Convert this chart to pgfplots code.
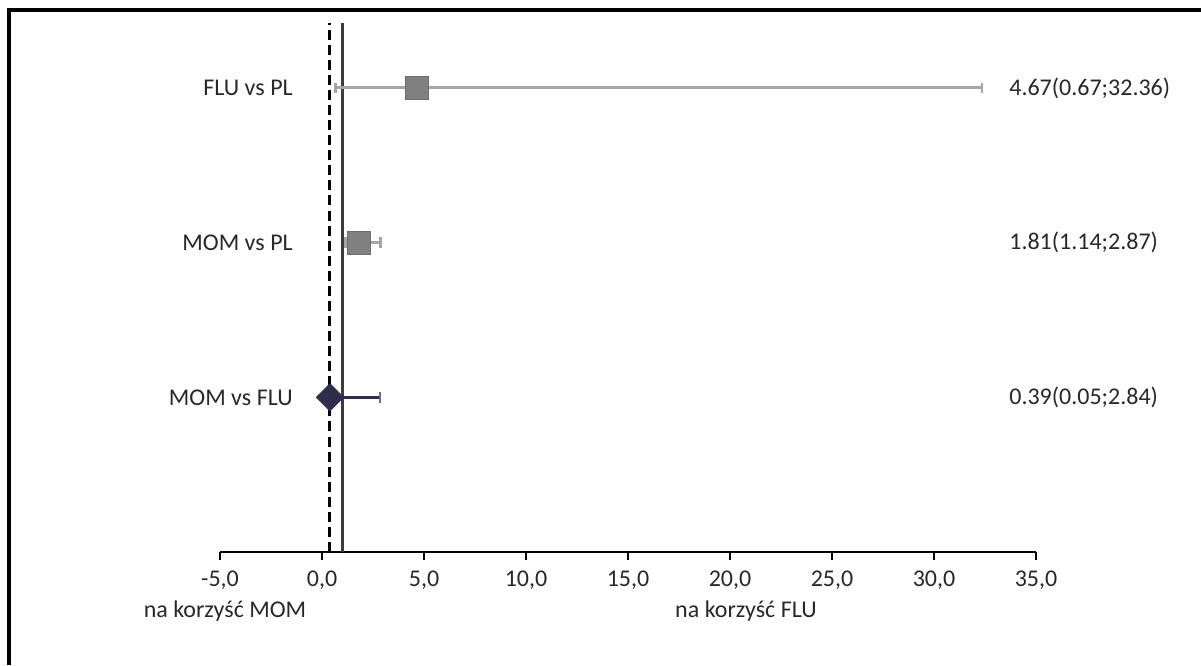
\documentclass[border=0pt]{standalone}
\usepackage{pgfplots}
\pgfplotsset{compat=1.18}
\usepackage{fontspec}
\setmainfont{Carlito}
\definecolor{sqgray}{RGB}{128,128,128}
\definecolor{bargray}{RGB}{165,165,165}
\definecolor{navy}{RGB}{48,44,76}
\definecolor{refline}{RGB}{60,60,60}
\definecolor{txt}{RGB}{40,40,40}

\begin{document}
\begin{tikzpicture}[font=\fontsize{18}{21}\selectfont]
% 1 px of the reference = 0.75pt
\useasboundingbox (0,0) rectangle (900.75pt,498.75pt);
% frame (left and top edges visible)
\draw[line width=2.4pt, black] (6.75pt,0) -- (6.75pt,491.25pt) -- (900.75pt,491.25pt);
\begin{axis}[
    at={(165pt,84.75pt)}, anchor=south west,
    scale only axis, width=612pt, height=396.75pt,
    xmin=-5, xmax=35, ymin=0, ymax=3.42,
    axis x line=bottom, axis y line=none,
    x axis line style={-, line width=1.5pt, black},
    xtick={-5,0,...,35}, ytick=\empty,
    tick align=outside, major tick length=6pt,
    tick style={line width=1.5pt, black},
    xticklabel style={text=txt, font=\fontsize{18}{21}\selectfont, yshift=-5pt,
        /pgf/number format/.cd, fixed, fixed zerofill, precision=1,
        use comma, assume math mode=true},
    clip=false,
]
% reference lines
\addplot[black, line width=2.2pt, dash pattern=on 7.5pt off 3.8pt] coordinates {(0.39,0) (0.39,3.42)};
\addplot[refline, line width=2.2pt] coordinates {(1,0) (1,3.42)};

% FLU vs PL and MOM vs PL
\addplot[only marks, mark=square*, mark size=8.7pt,
    mark options={fill=sqgray, draw=sqgray!85!black, line width=0.6pt},
    error bars/.cd, x dir=both, x explicit,
    error bar style={bargray, line width=2.2pt},
    error mark=|, error mark options={bargray, line width=2pt, mark size=4pt}]
coordinates {
    (4.67,3) += (27.69,0) -= (4.00,0)
    (1.81,2) += (1.06,0) -= (0.67,0)
};

% MOM vs FLU
\addplot[only marks, mark=square*, mark size=7.3pt,
    mark options={fill=navy, draw=navy, rotate=45},
    error bars/.cd, x dir=both, x explicit,
    error bar style={navy, line width=2.1pt},
    error mark=|, error mark options={navy!70, line width=2pt, mark size=4pt}]
coordinates {
    (0.39,1) += (2.45,0) -= (0.34,0)
};

% row labels
\node[anchor=east, inner sep=0, text=txt] at (axis cs:-1.42,3) {FLU vs PL};
\node[anchor=east, inner sep=0, text=txt] at (axis cs:-1.42,2) {MOM vs PL};
\node[anchor=east, inner sep=0, text=txt] at (axis cs:-1.42,1) {MOM vs FLU};
\node[anchor=west, inner sep=0, text=txt] at (axis cs:33.68,3) {4.67(0.67;32.36)};
\node[anchor=west, inner sep=0, text=txt] at (axis cs:33.68,2) {1.81(1.14;2.87)};
\node[anchor=west, inner sep=0, text=txt] at (axis cs:33.68,1) {0.39(0.05;2.84)};
\end{axis}
\node[text=txt] at (168.75pt,40.5pt) {na korzyść MOM};
\node[text=txt] at (559.5pt,40.5pt) {na korzyść FLU};
\end{tikzpicture}
\end{document}
